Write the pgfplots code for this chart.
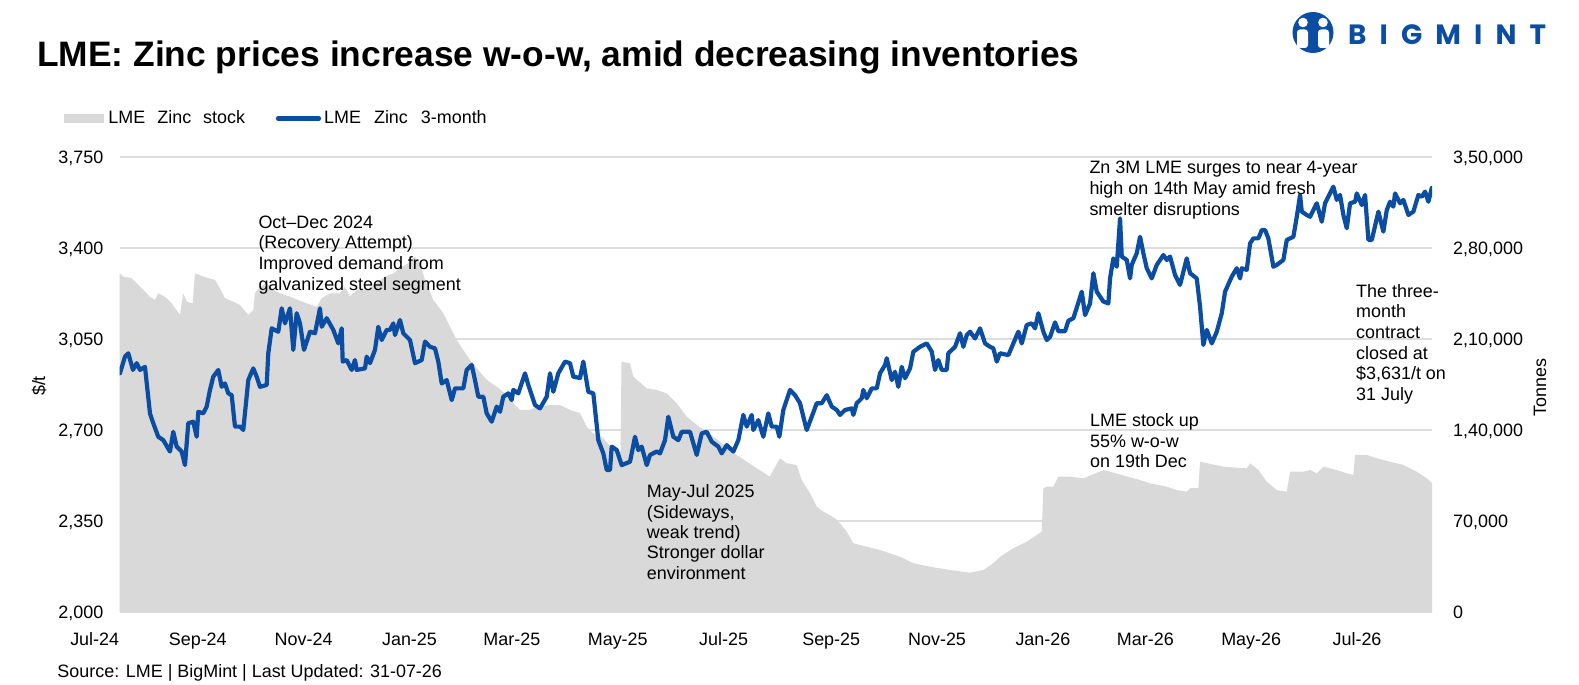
\documentclass[border=0pt]{standalone}
\usepackage{pgfplots}
\usepackage{pgfplotstable}
\pgfplotsset{compat=1.18}
\usepackage{fontspec}
\setmainfont{Liberation Sans}
\newfontfamily\logofont{Poppins}
\definecolor{zblue}{HTML}{0B4DA2}
\definecolor{zgray}{HTML}{D9D9D9}
\definecolor{gridgray}{HTML}{DDDDDD}
\newcommand\tickfont{\fontsize{18}{20}\selectfont}
\newcommand\annfont{\fontsize{18}{20.6}\selectfont}

% px = horizontal position; converted to days since 1 Jul 2024
\pgfplotstableread{
px p
120 2918
125 2982
128.3 2995
133 2931
136.7 2957
140 2931
145 2943
150 2764
153.3 2726
158.3 2674
163.3 2661
170 2617
173.3 2693
176.7 2636
181.7 2617
185 2565
188.3 2726
193.3 2732
196.7 2674
198.3 2770
203.3 2764
206.7 2790
210 2854
213.3 2905
218.3 2931
221.7 2866
225 2879
228.3 2841
231.7 2834
235 2713
240 2713
243.3 2700
248.3 2892
253.3 2937
256.7 2905
260 2866
266.7 2873
268.3 2995
271.7 3091
278.3 3078
281.7 3168
285 3110
290 3168
293.3 3008
296.7 3149
300 3110
304 3008
310 3078
315 3072
320 3168
321.7 3097
326.7 3130
333.3 3085
338.3 3033
341.7 3091
342.7 2963
346.7 2969
351.7 2931
355 2969
356.7 2931
365 2937
366.7 2982
370 2957
375 3008
378.3 3097
381.7 3046
386.7 3085
390 3085
393.3 3110
395 3065
400 3123
403.3 3072
410 3046
415 2957
421.7 2969
425 3040
430 3020
435 3014
438.3 2963
441.7 2879
446.7 2892
451.7 2815
455 2860
463.3 2860
466.7 2931
471.7 2950
475 2892
478.3 2828
483.3 2828
486.7 2764
491.7 2732
496.7 2790
500 2770
503.3 2828
508.3 2841
511.7 2815
513.3 2854
518.3 2841
525 2918
528.3 2873
535 2796
540 2783
546.7 2828
550 2918
553.3 2847
558.3 2918
565 2963
570 2957
573.3 2905
580 2900
583.3 2963
588.3 2847
593.3 2841
598.3 2661
603.3 2610
606.7 2546
610 2546
611.7 2636
616.7 2623
621.7 2565
630 2578
635 2674
638.3 2623
641.7 2636
646.7 2565
650 2604
656.7 2617
660 2610
665 2661
668.3 2751
673.3 2674
678.3 2661
681.7 2693
690 2693
696.7 2604
701.7 2687
706.7 2693
711.7 2655
718.3 2636
721.7 2610
726.7 2642
733.3 2617
738.3 2661
743.3 2758
746.7 2713
751.7 2758
753.3 2700
758.3 2738
763.3 2674
768.3 2764
771.7 2713
776.7 2713
779.3 2674
783.3 2777
790 2854
795 2834
800 2803
803.3 2751
806.7 2700
811.7 2751
816.7 2803
821.7 2803
826.7 2834
831.7 2790
836.7 2777
840 2758
845 2777
851.7 2783
853.3 2758
856.7 2803
861.7 2822
863.3 2854
866.7 2822
871.7 2860
876.7 2860
880 2918
885 2950
886.7 2976
891.7 2892
895 2924
898.3 2866
901.7 2943
905 2899
910 2937
913.3 3001
920 3020
926.7 3033
931.7 3001
935 2931
938.3 2969
941.7 2931
946.7 2931
948.3 2995
955 3020
960 3072
963.3 3020
966.7 3065
970 3078
975 3052
980 3091
985 3033
990 3020
993.3 3014
996.7 2963
1000 2995
1008.3 2988
1013.3 3033
1018.3 3078
1021.7 3033
1026.7 3104
1031.7 3110
1035 3091
1038.3 3149
1043.3 3078
1046.7 3046
1050 3058
1055 3114
1058.3 3080
1065 3080
1068.3 3120
1073.3 3130
1078.3 3190
1081.7 3232
1085 3142
1090 3187
1093.3 3303
1096.7 3232
1103.3 3194
1108.3 3187
1110 3283
1113.3 3360
1116.7 3328
1120 3514
1121.7 3367
1126.7 3354
1130 3283
1131.7 3335
1136.7 3380
1140 3443
1143.3 3380
1146.7 3322
1151.7 3283
1156.7 3335
1163.3 3373
1166.7 3354
1170 3367
1175 3296
1180 3258
1186.7 3360
1190 3303
1196.7 3283
1200 3174
1203.3 3027
1206.7 3085
1211.7 3033
1216.7 3078
1221.7 3149
1225 3232
1231.7 3290
1236.7 3322
1240 3283
1241.7 3322
1246.7 3316
1250 3418
1253.3 3437
1258.3 3437
1261.7 3469
1265 3469
1268.3 3437
1273.3 3328
1276.7 3335
1283.3 3354
1286.7 3431
1293.3 3443
1296.7 3520
1300 3604
1301.7 3540
1306.7 3527
1310 3520
1316.7 3572
1321.7 3501
1325 3572
1333.3 3636
1336.7 3585
1340 3604
1343.3 3527
1346.7 3476
1350 3572
1355 3578
1356.7 3610
1361.7 3565
1365 3604
1368.3 3431
1371.7 3431
1378.3 3540
1383.3 3463
1386.7 3546
1390 3578
1393.3 3559
1395 3610
1400 3572
1403.3 3585
1408.3 3527
1413.3 3540
1418.3 3604
1421.7 3597
1425 3617
1428.3 3578
1431.7 3631
}\pricetab

\pgfplotstableread{
px s
119.5 260500
123.3 258000
131.7 256700
136.7 252800
143.3 247700
150 242500
155 240000
158.3 245100
165 242500
171.7 237400
180 228400
181.7 237400
183.3 245100
186.7 238700
192.7 237400
195 260500
203.3 258000
215 255400
220 249000
225 241300
233.3 238700
240 236100
248.3 228400
253.3 232300
255 245100
260 250200
266.7 252800
273.3 247700
280 245100
290 242500
306.7 237400
316.7 234800
321.7 241300
330 245100
340 245100
345 250200
350 242500
356.7 247700
366.7 247700
376.7 252800
385 258000
393.3 260500
401.7 265600
408.3 268200
415 273300
420 268200
425 255400
433.3 240000
443.3 229800
450 219500
456.7 209200
463.3 201500
470 193800
478.3 186100
486.7 178500
496.7 173300
505 168200
513.3 160500
520 155400
530 155400
536.7 157900
550 159200
560 159200
570 155400
580 153000
586.7 142500
593.3 137400
601.7 134800
610 128000
618.3 123300
620.5 123300
621.5 192500
630 191300
633.3 181000
646.7 172000
656.7 170800
666.7 168200
676.7 160500
686.7 150200
700 142000
715 134000
736.7 120800
746.7 115600
756.7 110500
770 104100
773.3 109200
780 118200
786.7 114400
796.7 113100
801.7 101500
810 91300
816.7 81000
823.3 77200
835 72100
840 68200
846.7 61800
853.3 52800
866.7 50200
880 47700
900 42500
913.3 37500
930 34800
950 32300
970 30200
983.3 32300
993.3 37500
1000 42500
1013.3 49000
1026.7 54100
1041.7 61800
1043.3 95200
1046.7 96400
1053.3 96400
1058.3 104100
1070 104100
1083.3 102800
1103.3 109200
1110 107900
1140 101500
1150 99000
1166.7 96400
1176.7 93800
1186.7 92500
1190 95200
1198.3 95200
1200 115600
1223.3 111800
1246.7 110500
1250 114400
1258.3 109200
1266.7 100200
1276.7 93800
1286.7 92500
1290 107900
1303.3 107900
1310 109200
1316.7 106700
1323.3 111800
1336.7 109200
1346.7 106700
1353.3 105400
1355 120800
1366.7 120800
1376.7 118200
1390 115600
1403.3 113100
1416.7 107900
1426.7 102800
1432 99000
}\stocktab

\pgfplotsset{
  zbase/.style={
    at={(119.5bp,73bp)}, anchor=south west,
    scale only axis, width=1312.5bp, height=455bp,
    xmin=16.9, xmax=773.2,
    axis line style={draw=none},
    major tick length=0pt,
  }
}

\begin{document}
\begin{tikzpicture}
\fill[white] (0,0) rectangle (1579bp,685bp);
\useasboundingbox (0,0) rectangle (1579bp,685bp);

% stock (right axis)
\begin{axis}[
  zbase,
  ymin=0, ymax=350000,
  axis y line*=right, axis x line*=bottom,
  ytick={0,70000,140000,210000,280000,350000},
  yticklabels={0,{70,000},{1,40,000},{2,10,000},{2,80,000},{3,50,000}},
  scaled y ticks=false,
  ymajorgrids, grid style={color=gridgray, line width=1.4bp},
  yticklabel style={font=\tickfont, anchor=base west, inner sep=0pt, xshift=21bp, yshift=-6.4bp},
  xtick={62,123,184,243,304,365,427,488,549,608,669,730},
  xticklabels={Sep-24,Nov-24,Jan-25,Mar-25,May-25,Jul-25,Sep-25,Nov-25,Jan-26,Mar-26,May-26,Jul-26},
  xticklabel style={font=\tickfont, anchor=base, inner sep=0pt, yshift=-33bp},
]
\addplot[draw=none, fill=zgray] table[x expr=(\thisrow{px}-90.2)/1.7353, y=s] {\stocktab} \closedcycle;
\end{axis}

% price (left axis)
\begin{axis}[
  zbase,
  ymin=2000, ymax=3750,
  axis y line*=left, axis x line=none,
  xtick=\empty,
  ytick={2000,2350,2700,3050,3400,3750},
  yticklabels={{2,000},{2,350},{2,700},{3,050},{3,400},{3,750}},
  yticklabel style={font=\tickfont, anchor=base east, inner sep=0pt, xshift=-16bp, yshift=-6.4bp},
]
\addplot[zblue, line width=4.2bp, line join=round, line cap=round] table[x expr=(\thisrow{px}-90.2)/1.7353, y=p] {\pricetab};
\end{axis}

\begin{scope}[x=1bp,y=1bp]
% Jul-24 label (axis starts mid-July)
\node[font=\tickfont, anchor=base, inner sep=0pt] at (94.7,40) {Jul-24};

% axis titles
\node[font=\tickfont, rotate=90, inner sep=0pt] at (39,299) {\$/t};
\node[font=\tickfont, rotate=90, inner sep=0pt] at (1540,297.5) {Tonnes};

% title
\node[anchor=base west, inner sep=0pt, font=\fontsize{35.5}{40}\selectfont\bfseries] at (37,618.3)
  {LME: Zinc prices increase w-o-w, amid decreasing inventories};

% legend
\fill[zgray] (64,562.3) rectangle (104,571);
\node[anchor=base west, inner sep=0pt, font=\tickfont] at (108.3,561.7) {LME\hspace{12bp}Zinc\hspace{12bp}stock};
\draw[zblue, line width=4.2bp, line cap=round] (278,566.5) -- (319,566.5);
\node[anchor=base west, inner sep=0pt, font=\tickfont] at (324,561.7) {LME\hspace{13bp}Zinc\hspace{13bp}3-month};

% annotations
\foreach \t [count=\i] in {Oct–Dec 2024,(Recovery Attempt),Improved demand from,galvanized steel segment}
  \node[anchor=base west, inner sep=0pt, font=\annfont] at (258.3,{456.7-(\i-1)*20.6}) {\t};
\foreach \t [count=\i] in {May-Jul 2025,{(Sideways,},weak trend),Stronger dollar,environment}
  \node[anchor=base west, inner sep=0pt, font=\annfont] at (646.7,{187.3-(\i-1)*20.4}) {\t};
\foreach \t [count=\i] in {Zn 3M LME surges to near 4-year,high on 14th May amid fresh,smelter disruptions}
  \node[anchor=base west, inner sep=0pt, font=\annfont] at (1089.3,{511-(\i-1)*20.6}) {\t};
\foreach \t [count=\i] in {LME stock up,55\% w-o-w,on 19th Dec}
  \node[anchor=base west, inner sep=0pt, font=\annfont] at (1090,{258.3-(\i-1)*20.6}) {\t};
\foreach \t [count=\i] in {The three-,month,contract,closed at,{\$3,631/t on},31 July}
  \node[anchor=base west, inner sep=0pt, font=\annfont] at (1356,{387.7-(\i-1)*20.6}) {\t};

% source
\node[anchor=base west, inner sep=0pt, font=\tickfont] at (57.3,7.3) {Source: LME | BigMint | Last Updated: 31-07-26};

% logo
\fill[zblue] (1313,652.5) circle (20.5);
\fill[white] (1303,662.5) circle (4.8);
\fill[white] (1323,662.5) circle (4.8);
\fill[white, rounded corners=3] (1297,637) rectangle (1308,655.5);
\fill[white, rounded corners=3] (1318,637) rectangle (1329,655.5);
\fill[zblue] (1308,655.5) -- (1313,641) -- (1318,655.5) -- cycle;
\node[anchor=base west, inner sep=0pt, text=zblue] at (1348,640)
  {\makebox[198bp][s]{\logofont\fontsize{28}{30}\selectfont\bfseries B\hfill I\hfill G\hfill M\hfill I\hfill N\hfill T}};
\end{scope}
\end{tikzpicture}
\end{document}
